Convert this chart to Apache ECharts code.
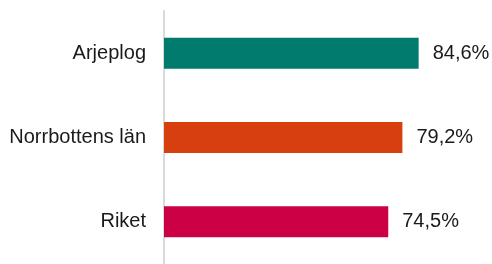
<!DOCTYPE html>
<html>
<head>
<meta charset="utf-8">
<script src="https://cdn.jsdelivr.net/npm/echarts@6/dist/echarts.min.js"></script>
<style>
  html, body { margin: 0; padding: 0; background: #fff; }
  #chart { width: 492px; height: 264px; }
</style>
</head>
<body>
<div id="chart"></div>
<script>
const categories = ['Arjeplog', 'Norrbottens län', 'Riket'];
const values = [84.6, 79.2, 74.5];
const colors = ['#007b6e', '#d83f0f', '#cc0044'];

const font = '"Liberation Sans", Arial, sans-serif';
const chart = echarts.init(document.getElementById('chart'));

chart.setOption({
  animation: false,
  grid: { left: 164, right: 27, top: 11, bottom: -2 },
  xAxis: {
    type: 'value',
    min: 0,
    max: 100,
    show: false
  },
  yAxis: {
    type: 'category',
    data: categories,
    inverse: true,
    offset: 1,
    axisLine: { show: true, lineStyle: { color: '#d9d9d9', width: 2 } },
    axisTick: { show: false },
    axisLabel: {
      margin: 17,
      color: '#1a1a1a',
      fontSize: 20,
      fontFamily: font
    }
  },
  series: [
    {
      type: 'bar',
      barWidth: 31,
      data: values.map((v, i) => ({ value: v, itemStyle: { color: colors[i] } })),
      label: {
        show: true,
        position: 'right',
        distance: 14,
        color: '#1a1a1a',
        fontSize: 20,
        fontFamily: font,
        formatter: (p) => p.value.toFixed(1).replace('.', ',') + '%'
      }
    }
  ]
});
</script>
</body>
</html>
